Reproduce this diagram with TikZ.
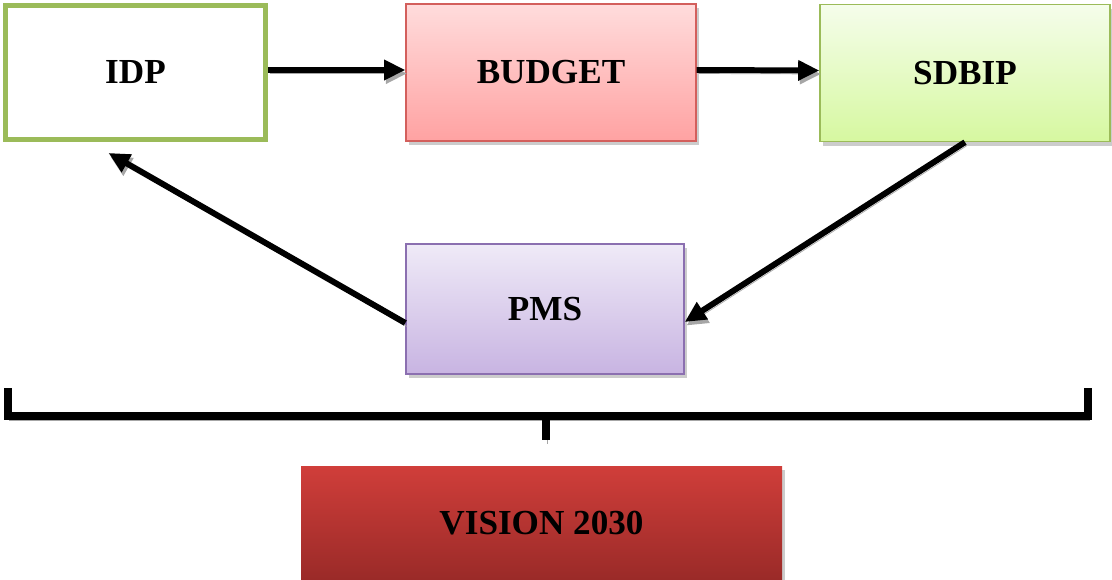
\documentclass[tikz,border=0pt]{standalone}
\usepackage{fontspec}
\setmainfont{Liberation Serif}
\usepackage{xcolor}
\usepackage{tikz}
\usetikzlibrary{arrows.meta,shadows}

\definecolor{idpgreen}{HTML}{9BBB59}
\definecolor{budgetline}{HTML}{D35F5C}
\definecolor{budgettop}{HTML}{FFDCDC}
\definecolor{budgetbot}{HTML}{FFA2A2}
\definecolor{sdbiptop}{HTML}{F5FDEB}
\definecolor{sdbipbot}{HTML}{D6F8A0}
\definecolor{pmsline}{HTML}{8B6FB0}
\definecolor{pmstop}{HTML}{EFEAF7}
\definecolor{pmsbot}{HTML}{C8B4E2}
\definecolor{visiontop}{HTML}{D03E3A}
\definecolor{visionbot}{HTML}{9A2A28}

\begin{document}
\begin{tikzpicture}[font=\fontsize{20}{24}\selectfont\bfseries]
      \tikzstyle{block} = [rectangle, text centered, minimum width=5.8cm, minimum height=2.74cm, line width=0.8pt, drop shadow={shadow xshift=0.05cm, shadow yshift=-0.08cm, fill=gray!80}]
      \tikzstyle{arrow} = [line width=3.4pt, -{Triangle[length=12pt,width=11pt]}, preaction={draw=gray!70, transform canvas={xshift=1pt,yshift=-2pt}}]
      \tikzstyle{brace} = [line width=5pt, preaction={draw=gray!70, transform canvas={xshift=1pt,yshift=-2.2pt}}]
      \useasboundingbox (0,0) rectangle (22.24,-11.6);

      \node (idp) [rectangle, text centered, minimum width=5.2cm, minimum height=2.68cm, draw=idpgreen, line width=2.8pt, fill=white] at (2.71,-1.45) {IDP};
      \node (budget) [block, draw=budgetline, top color=budgettop, bottom color=budgetbot] at (11.02,-1.45) {BUDGET};
      \node (sdbip) [block, draw=idpgreen, top color=sdbiptop, bottom color=sdbipbot] at (19.3,-1.46) {SDBIP};
      \node (pms) [block, minimum width=5.56cm, minimum height=2.6cm, draw=pmsline, top color=pmstop, bottom color=pmsbot] at (10.9,-6.18) {PMS};
      \node (vision) [block, minimum width=9.62cm, minimum height=2.28cm, top color=visiontop, bottom color=visionbot] at (10.83,-10.46) {VISION 2030};

      % bracket under the cycle
      \coordinate (bl) at (0.16,-7.76);
      \coordinate (br) at (21.76,-7.76);
      \coordinate (stem) at (10.92,-8.32);
      \draw [brace] (bl) -- (0.16,-8.32) -- (21.76,-8.32) -- (br);
      \draw [brace] (stem) -- (10.92,-8.8);

      \draw [arrow] ([yshift=0.05cm]idp.east) -- ([yshift=0.05cm]budget.west);
      \draw [arrow] ([yshift=0.05cm]budget.east) -- ([yshift=0.05cm]sdbip.west);
      \draw [arrow] (sdbip.south) -- ([yshift=-0.26cm]pms.east);
      \draw [arrow] ([yshift=-0.28cm]pms.west) -- ([xshift=-0.54cm,yshift=-0.22cm]idp.south);
    \end{tikzpicture}
\end{document}
